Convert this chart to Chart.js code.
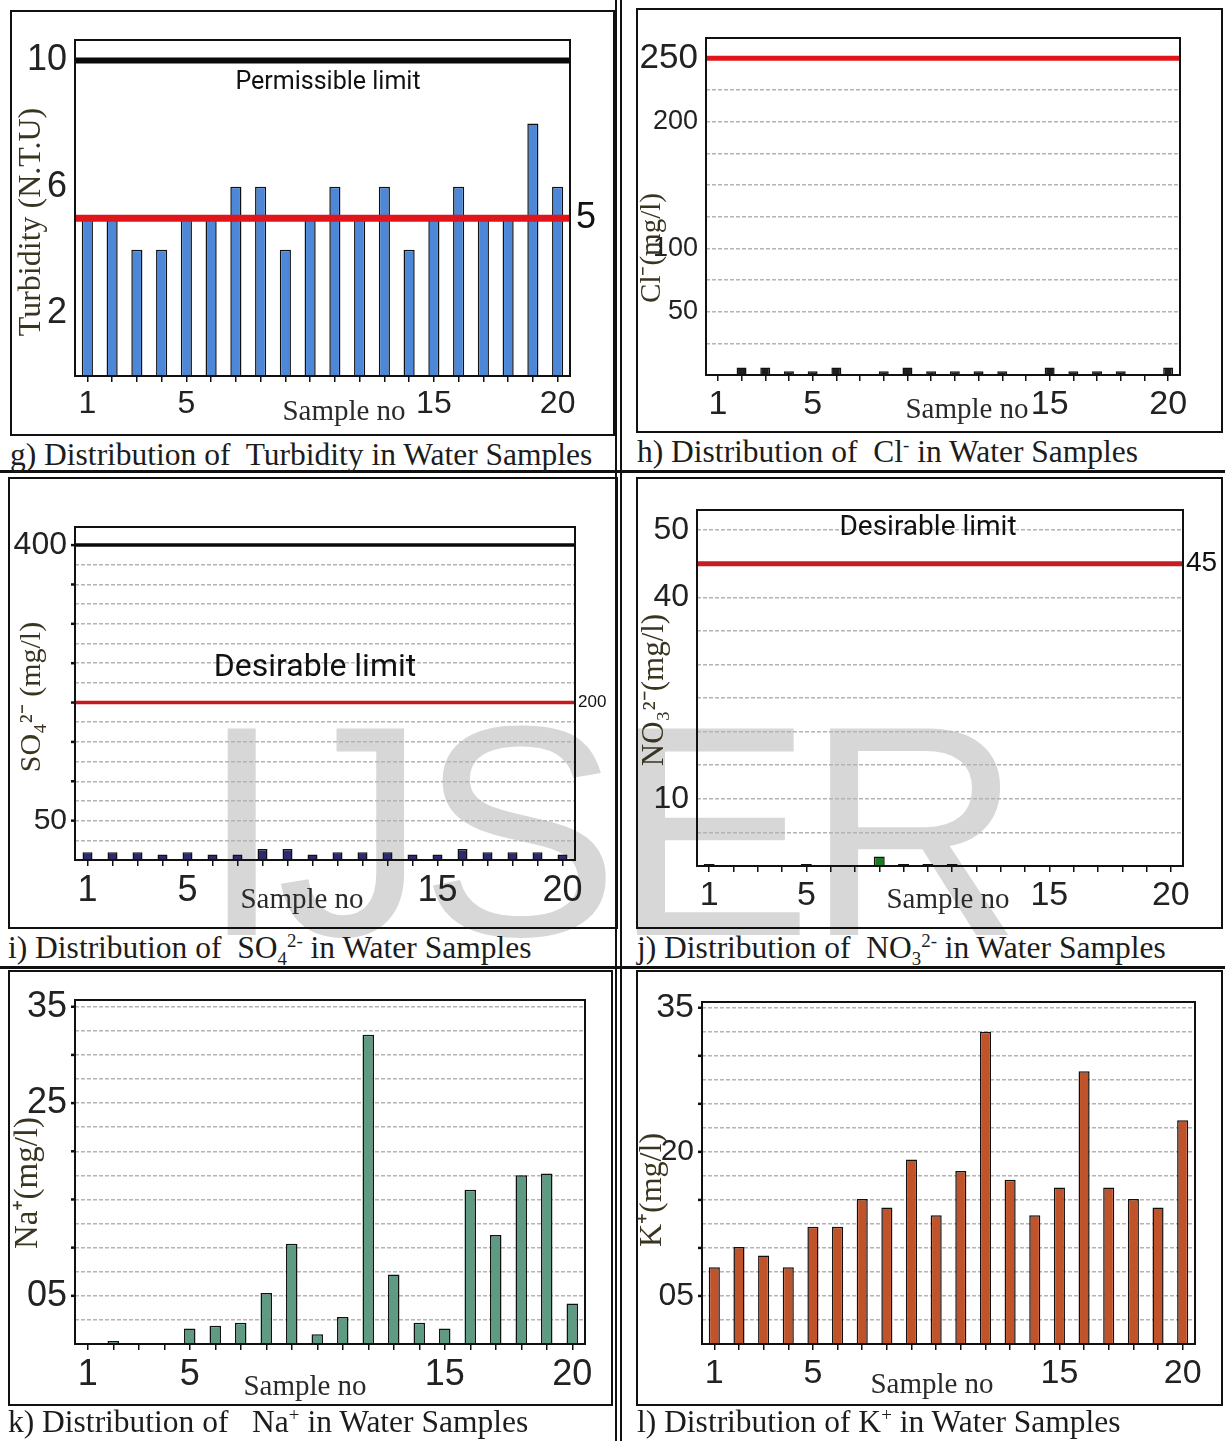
<!DOCTYPE html>
<html>
<head>
<meta charset="utf-8">
<script src="https://cdn.jsdelivr.net/npm/chart.js@4.4.1/dist/chart.umd.min.js"></script>
<style>
    body { margin: 0; background: #fff; width: 1225px; height: 1441px; position: relative; overflow: hidden; }
    .frame { position: absolute; border: 2px solid #111; box-sizing: border-box; }
    canvas { position: absolute; }
    .cap { position: absolute; font-family: 'Liberation Serif', serif; font-size: 31.5px; line-height: 32px; color: #1c1c1c; white-space: nowrap; }
    .cap sup, .cap sub { font-size: 60%; line-height: 0; }
    .rule { position: absolute; background: #111; }
    #wm { position: absolute; left: 200px; top: 681px; font-family: 'Liberation Sans', Arial, sans-serif; font-size: 300px; line-height: 1; letter-spacing: -7px; color: #d7d7d7; white-space: nowrap; }
</style>
</head>
<body>
<div id="wm">IJSER</div>

<script>
    // categorias e valores
    const sampleNo = ['1','2','3','4','5','6','7','8','9','10','11','12','13','14','15','16','17','18','19','20'];
    const xLabelled = ['1', '5', '15', '20'];

    const turbidity = [5, 5, 4, 4, 5, 5, 6, 6, 4, 5, 6, 5, 6, 4, 5, 6, 5, 5, 8, 6];
    const turbidityLimits = [10, 5];
    const turbidityTicks = [2, 6, 10];
    const turbidityTickText = ['2', '6', '10'];

    const chloride = [0, 6, 6, 3, 3, 6, 0, 3, 6, 3, 3, 3, 3, 0, 6, 3, 3, 3, 0, 6];
    const chlorideLimits = [250];
    const chlorideGrid = [25, 50, 75, 100, 125, 150, 175, 200, 225, 250];
    const chlorideTicks = [50, 100, 200, 250];
    const chlorideTickText = ['50', '100', '200', '250'];

    const sulphate = [10, 10, 10, 7, 10, 7, 7, 14, 14, 7, 10, 10, 10, 7, 7, 14, 10, 10, 10, 7];
    const sulphateLimits = [400, 200];
    const sulphateGrid = [25, 50, 75, 100, 125, 150, 175, 200, 225, 250, 275, 300, 325, 350, 375, 400];
    const sulphateTicks = [50, 400];
    const sulphateTickText = ['50', '400'];

    const nitrate = [0.3, 0, 0, 0, 0.3, 0, 0, 1.4, 0.3, 0.3, 0.3, 0, 0, 0, 0, 0, 0, 0, 0, 0];
    const nitrateLimits = [45];
    const nitrateGrid = [5, 10, 15, 20, 25, 30, 35, 40, 45, 50];
    const nitrateTicks = [10, 40, 50];
    const nitrateTickText = ['10', '40', '50'];

    const sodium = [0, 0.3, 0, 0, 1.6, 1.9, 2.2, 5.3, 10.4, 1.0, 2.8, 32.1, 7.2, 2.2, 1.6, 16.0, 11.3, 17.5, 17.7, 4.2];
    const potassium = [8.0, 10.1, 9.2, 8.0, 12.2, 12.2, 15.1, 14.2, 19.2, 13.4, 18.0, 32.5, 17.1, 13.4, 16.3, 28.4, 16.3, 15.1, 14.2, 23.3];
    const ionGrid = [2.5, 5, 7.5, 10, 12.5, 15, 17.5, 20, 22.5, 25, 27.5, 30, 32.5, 35];
    const sodiumTicks = [5, 25, 35];
    const sodiumTickText = ['05', '25', '35'];
    const potassiumTicks = [5, 20, 35];
    const potassiumTickText = ['05', '20', '35'];

    const tickFont = "'Liberation Sans Narrow', 'Liberation Sans', Arial, sans-serif";
    const serif = "'Liberation Serif', 'Times New Roman', serif";

    // desenha linhas de limite, textos, título do eixo y e a moldura da área do gráfico
    const decor = {
        id: 'decor',
        afterDatasetsDraw(chart, args, o) {
            const { ctx, chartArea: a } = chart;
            const y = chart.scales.y;
            ctx.save();
            (o.lines || []).forEach(l => {
                const py = y.getPixelForValue(l.value);
                ctx.strokeStyle = l.color;
                ctx.lineWidth = l.width;
                ctx.beginPath();
                ctx.moveTo(a.left, py);
                ctx.lineTo(a.right, py);
                ctx.stroke();
                if (l.text) {
                    ctx.fillStyle = '#111';
                    ctx.font = l.font;
                    ctx.textAlign = 'left';
                    ctx.textBaseline = 'middle';
                    ctx.fillText(l.text, a.right + l.dx, py);
                }
            });
            // marcas curtas à esquerda do eixo y
            (o.tickMarks || []).forEach(v => {
                const py = y.getPixelForValue(v);
                ctx.strokeStyle = '#111';
                ctx.lineWidth = 2.5;
                ctx.beginPath();
                ctx.moveTo(a.left - 4, py);
                ctx.lineTo(a.left, py);
                ctx.stroke();
            });
            (o.notes || []).forEach(n => {
                ctx.fillStyle = n.color || '#111';
                ctx.font = n.font;
                ctx.textAlign = 'center';
                ctx.textBaseline = 'middle';
                ctx.fillText(n.text, n.x, n.y);
            });
            if (o.yTitle) {
                const t = o.yTitle;
                ctx.save();
                ctx.translate(t.x, t.y);
                ctx.rotate(-Math.PI / 2);
                ctx.fillStyle = '#3a3520';
                ctx.font = t.size + 'px ' + serif;
                ctx.textAlign = 'center';
                ctx.textBaseline = 'middle';
                ctx.fillText(t.text, 0, 0);
                ctx.restore();
            }
            ctx.strokeStyle = '#111';
            ctx.lineWidth = 2;
            ctx.strokeRect(a.left, a.top, a.width, a.height);
            ctx.restore();
        }
    };
    Chart.register(decor);

    function caption(html, left, cy) {
        const d = document.createElement('div');
        d.className = 'cap';
        d.innerHTML = html;
        d.style.left = left + 'px';
        d.style.top = (cy - 16) + 'px';
        document.body.appendChild(d);
    }

    function rule(x, y, w, h) {
        const d = document.createElement('div');
        d.className = 'rule';
        d.style.left = x + 'px'; d.style.top = y + 'px';
        d.style.width = w + 'px'; d.style.height = h + 'px';
        document.body.appendChild(d);
    }

    // frame = [x, y, w, h], plot = [left, top, right, bottom] (coordenadas da página)
    function panel(frame, plot, o) {
        const fr = document.createElement('div');
        fr.className = 'frame';
        fr.style.left = frame[0] + 'px'; fr.style.top = frame[1] + 'px';
        fr.style.width = frame[2] + 'px'; fr.style.height = frame[3] + 'px';
        document.body.appendChild(fr);

        const cv = document.createElement('canvas');
        cv.width = frame[2]; cv.height = frame[3];
        cv.style.left = frame[0] + 'px'; cv.style.top = frame[1] + 'px';
        document.body.appendChild(cv);

        const yW = plot[0] - frame[0];
        const xH = frame[1] + frame[3] - plot[3];
        const notes = (o.notes || []).map(n => Object.assign({}, n, { x: n.x - frame[0], y: n.y - frame[1] }));
        notes.push({ text: 'Sample no', x: o.sampleAt[0] - frame[0], y: o.sampleAt[1] - frame[1], font: '29px ' + serif, color: '#2a2a2a' });
        const yTitle = { text: o.title, size: o.titleSize, x: o.titleAt[0] - frame[0], y: o.titleAt[1] - frame[1] };

        new Chart(cv, {
            type: 'bar',
            data: {
                labels: sampleNo,
                datasets: [{
                    data: o.data,
                    backgroundColor: o.color,
                    borderColor: '#111',
                    borderWidth: 1.5,
                    barPercentage: o.barPct,
                    categoryPercentage: 1
                }]
            },
            options: {
                responsive: false,
                animation: false,
                devicePixelRatio: 1,
                layout: { padding: { left: 0, top: plot[1] - frame[1], right: frame[0] + frame[2] - plot[2], bottom: 0 } },
                plugins: {
                    legend: { display: false },
                    tooltip: { enabled: false },
                    decor: { lines: o.lines, notes: notes, yTitle: yTitle, tickMarks: o.tickMarks }
                },
                scales: {
                    x: {
                        grid: { offset: false, drawOnChartArea: false, drawTicks: true, tickLength: 6, color: '#111', lineWidth: 1.5 },
                        border: { display: false },
                        ticks: {
                            autoSkip: false, maxRotation: 0, padding: 3, color: '#222',
                            font: { family: tickFont, size: o.xFont },
                            callback: (v, i) => xLabelled.includes(sampleNo[i]) ? sampleNo[i] : ''
                        },
                        afterFit: s => { s.height = xH; }
                    },
                    y: {
                        min: 0, max: o.max,
                        afterBuildTicks: s => { s.ticks = o.grid.map(v => ({ value: v })); },
                        grid: { display: o.gridOn, color: '#b4b4b4', lineWidth: 1.5, drawTicks: false },
                        border: { display: false, dash: [4, 2] },
                        ticks: {
                            autoSkip: false, padding: 8, color: '#222',
                            font: ctx => {
                                const k = o.ticks.indexOf(ctx.tick && ctx.tick.value);
                                return { family: tickFont, size: k >= 0 ? o.yFont[k] : 20 };
                            },
                            callback: v => {
                                const k = o.ticks.indexOf(v);
                                return k >= 0 ? o.tickText[k] : '';
                            }
                        },
                        afterFit: s => { s.width = yW; }
                    }
                }
            }
        });
    }

    // g) turbidez
    panel([10, 10, 605, 426], [75, 40, 570, 376], {
        data: turbidity, color: '#4d88d8', barPct: 0.45, max: 10.65,
        grid: turbidityTicks, ticks: turbidityTicks, tickText: turbidityTickText, gridOn: false,
        yFont: [36, 36, 36], xFont: 32,
        title: 'Turbidity (N.T.U)', titleSize: 32, titleAt: [32, 222],
        lines: [
            { value: turbidityLimits[0], color: '#0a0a0a', width: 6 },
            { value: turbidityLimits[1], color: '#e0141a', width: 7, text: '5', dx: 6, font: "36px " + tickFont }
        ],
        notes: [{ text: 'Permissible limit', x: 328, y: 83, font: "25px 'Roboto', sans-serif" }],
        sampleAt: [344, 412]
    });

    // h) cloreto
    panel([636, 8, 587, 425], [706, 38, 1180, 375], {
        data: chloride, color: '#1e1e1e', barPct: 0.42, max: 266,
        grid: chlorideGrid, ticks: chlorideTicks, tickText: chlorideTickText, gridOn: true,
        yFont: [27, 27, 27, 35], xFont: 34,
        title: 'Cl⁻(mg/l)', titleSize: 29, titleAt: [652, 248],
        lines: [{ value: chlorideLimits[0], color: '#e0141a', width: 5 }],
        sampleAt: [967, 410]
    });

    // i) sulfato
    panel([8, 477, 610, 452], [75, 527, 575, 860], {
        data: sulphate, color: '#2e2a70', barPct: 0.4, max: 423,
        grid: sulphateGrid, ticks: sulphateTicks, tickText: sulphateTickText, gridOn: true,
        tickMarks: [50, 100, 150, 200, 250, 300, 350, 400],
        yFont: [30, 32], xFont: 36,
        title: 'SO₄²⁻ (mg/l)', titleSize: 30, titleAt: [32, 697],
        lines: [
            { value: sulphateLimits[0], color: '#0a0a0a', width: 3.5 },
            { value: sulphateLimits[1], color: '#c8171d', width: 3.5, text: '200', dx: 3, font: "17px " + tickFont }
        ],
        notes: [{ text: 'Desirable limit', x: 315, y: 668, font: "32px 'Roboto', sans-serif" }],
        sampleAt: [302, 900]
    });

    // j) nitrato
    panel([636, 477, 587, 452], [697, 510, 1183, 866], {
        data: nitrate, color: nitrate.map((v, i) => i === 7 ? '#1d7a24' : '#1e1e1e'), barPct: 0.45, max: 53,
        grid: nitrateGrid, ticks: nitrateTicks, tickText: nitrateTickText, gridOn: true,
        yFont: [32, 32, 32], xFont: 34,
        title: 'NO₃²⁻(mg/l)', titleSize: 31, titleAt: [655, 690],
        lines: [{ value: nitrateLimits[0], color: '#c51d22', width: 5, text: '45', dx: 3, font: "28px " + tickFont }],
        notes: [{ text: 'Desirable limit', x: 928, y: 528, font: "28px 'Roboto', sans-serif" }],
        sampleAt: [948, 900]
    });

    // k) sódio
    panel([8, 970, 605, 436], [75, 1000, 585, 1344], {
        data: sodium, color: '#5f9a82', barPct: 0.45, max: 35.7,
        grid: ionGrid, ticks: sodiumTicks, tickText: sodiumTickText, gridOn: true,
        tickMarks: [5, 10, 15, 20, 25, 30, 35],
        yFont: [36, 36, 36], xFont: 36,
        title: 'Na⁺(mg/l)', titleSize: 33, titleAt: [28, 1183],
        lines: [],
        sampleAt: [305, 1387]
    });

    // l) potássio
    panel([636, 970, 587, 436], [702, 1002, 1195, 1344], {
        data: potassium, color: '#c1532b', barPct: 0.45, max: 35.6,
        grid: ionGrid, ticks: potassiumTicks, tickText: potassiumTickText, gridOn: true,
        tickMarks: [5, 10, 15, 20, 25, 30, 35],
        yFont: [32, 30, 34], xFont: 34,
        title: 'K⁺(mg/l)', titleSize: 32, titleAt: [653, 1190],
        lines: [],
        sampleAt: [932, 1385]
    });

    // linhas divisórias
    rule(0, 470, 1225, 3);
    rule(0, 966, 1225, 3);
    rule(615, 0, 2, 1441);
    rule(620, 0, 2, 1441);

    caption('g) Distribution of&nbsp; Turbidity in Water Samples', 10, 455);
    caption('h) Distribution of&nbsp; Cl<sup>-</sup> in Water Samples', 637, 452);
    caption('i) Distribution of&nbsp; SO<sub>4</sub><sup>2-</sup> in Water Samples', 8, 948);
    caption('j) Distribution of&nbsp; NO<sub>3</sub><sup>2-</sup> in Water Samples', 637, 948);
    caption('k) Distribution of&nbsp;&nbsp; Na<sup>+</sup> in Water Samples', 8, 1422);
    caption('l) Distribution of K<sup>+</sup> in Water Samples', 637, 1422);
</script>
</body>
</html>
